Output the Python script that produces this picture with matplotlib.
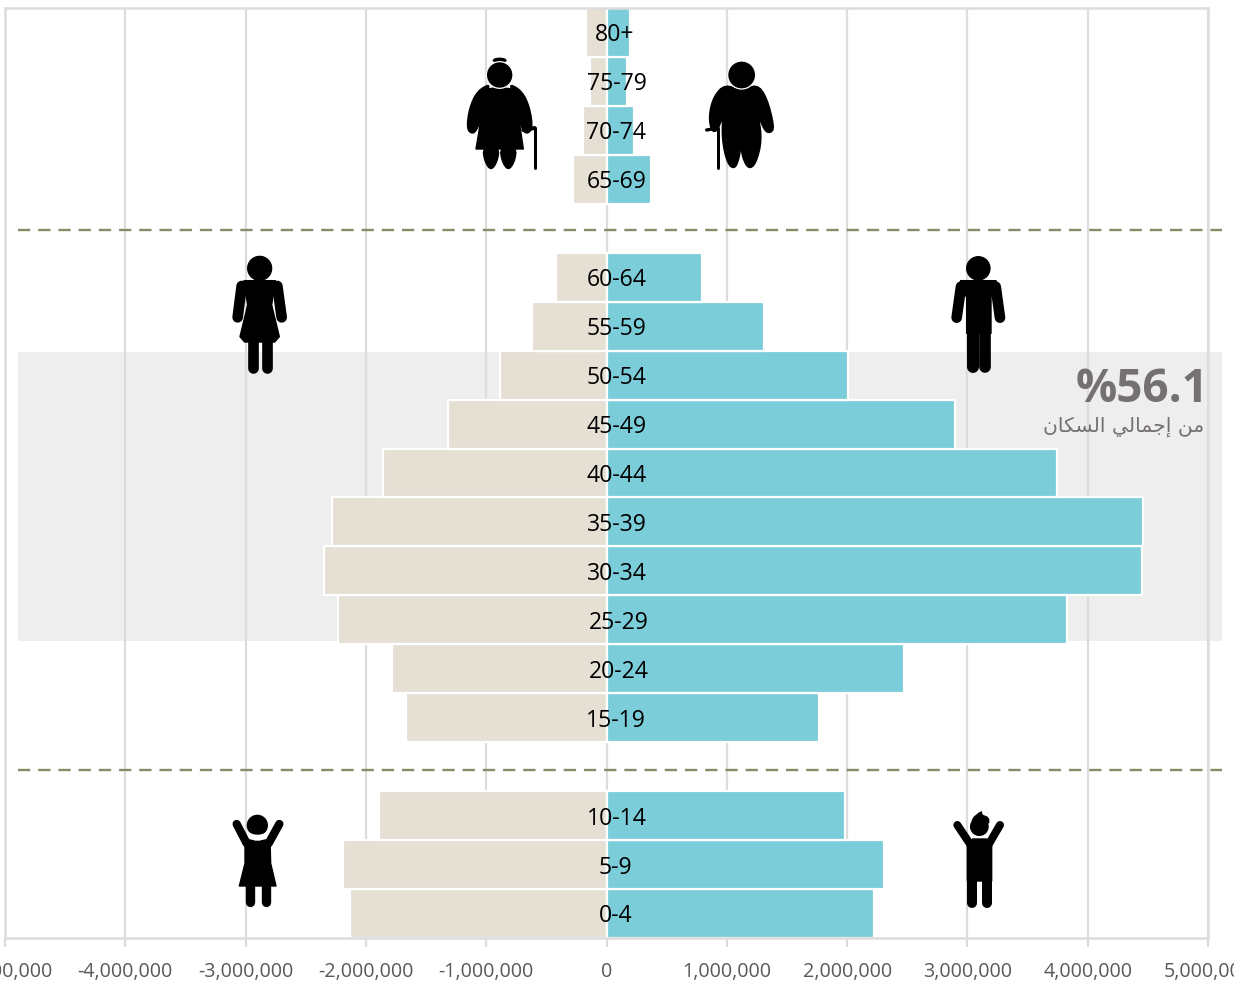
import numpy as np
import matplotlib
matplotlib.use('Agg')
import matplotlib.pyplot as plt
from matplotlib.patches import Polygon, Circle, Ellipse, Rectangle

plt.rcParams['font.family'] = ['Open Sans', 'DejaVu Sans']

# age groups bottom to top, '' = empty slot where the dashed divider sits
slots = ['0-4', '5-9', '10-14', '', '15-19', '20-24', '25-29', '30-34', '35-39',
         '40-44', '45-49', '50-54', '55-59', '60-64', '', '65-69', '70-74', '75-79', '80+']
female = [2135000, 2190000, 1890000, 1668000, 1785000, 2235000, 2350000, 2285000,
          1855000, 1315000, 885000, 620000, 420000, 280000, 195000, 140000, 170000]
male = [2222000, 2305000, 1985000, 1765000, 2475000, 3830000, 4455000, 4462000,
        3745000, 2900000, 2008000, 1308000, 798000, 368000, 232000, 168000, 198000]
xticks = [-5000000, -4000000, -3000000, -2000000, -1000000, 0,
          1000000, 2000000, 3000000, 4000000, 5000000]
share_text = '%56.1'
share_note = 'من إجمالي السكان'

W, H = 1234, 983
GRID = '#dcdcdc'
BLACK = '#000000'

# arabic letters used here: (isolated, final, initial, medial)
forms = {
    'م': ('\ufee1', '\ufee2', '\ufee3', '\ufee4'),
    'ن': ('\ufee5', '\ufee6', '\ufee7', '\ufee8'),
    'إ': ('\ufe87', '\ufe88', '\ufe87', '\ufe88'),
    'ج': ('\ufe9d', '\ufe9e', '\ufe9f', '\ufea0'),
    'ا': ('\ufe8d', '\ufe8e', '\ufe8d', '\ufe8e'),
    'ل': ('\ufedd', '\ufede', '\ufedf', '\ufee0'),
    'ي': ('\ufef1', '\ufef2', '\ufef3', '\ufef4'),
    'س': ('\ufeb1', '\ufeb2', '\ufeb3', '\ufeb4'),
    'ك': ('\ufed9', '\ufeda', '\ufedb', '\ufedc'),
}


def shape_arabic(s):
    # matplotlib does no shaping or bidi, so pick the forms and reverse by hand
    out = []
    for i, c in enumerate(s):
        if c not in forms:
            out.append(c)
            continue
        prev = s[i - 1] if i > 0 else ' '
        nxt = s[i + 1] if i + 1 < len(s) else ' '
        join_prev = prev in forms and prev not in 'اإ'
        join_next = nxt in forms and c not in 'اإ'
        idx = {(False, False): 0, (True, False): 1, (False, True): 2, (True, True): 3}[(join_prev, join_next)]
        out.append(forms[c][idx])
    return ''.join(out[::-1])


fig = plt.figure(figsize=(W / 100, H / 100), dpi=100, facecolor='white')

# back layer, pixel coords: grey band
bg = fig.add_axes([0, 0, 1, 1], zorder=0)
bg.set_xlim(0, W)
bg.set_ylim(H, 0)
bg.axis('off')
bg.add_patch(Rectangle((18, 352), 1204, 289, facecolor='#eeeeee', edgecolor='none'))

# main chart
ax = fig.add_axes([5 / W, 1 - 938 / H, 1203 / W, 930 / H], zorder=1)
ax.patch.set_visible(False)
y = [i for i, s in enumerate(slots) if s]
labels = [s for s in slots if s]
ax.barh(y, -np.array(female), height=1.0, color='#e5dfd4', edgecolor='white', linewidth=1.6)
ax.barh(y, male, height=1.0, color='#7bcdd9', edgecolor='white', linewidth=1.6)
ax.set_xlim(-5000000, 5000000)
ax.set_ylim(-0.5, len(slots) - 0.5)
ax.set_yticks([])
ax.set_xticks(xticks)
ax.set_xticklabels([f'{v:,}' for v in xticks])
ax.tick_params(axis='x', length=6.5, width=1.6, color=GRID, labelcolor='#595959', labelsize=14.2, pad=11)
ax.grid(axis='x', color=GRID, linewidth=1.6)
ax.set_axisbelow(True)
for s in ax.spines.values():
    s.set_color(GRID)
    s.set_linewidth(1.8)

nudge = {'80+': 70000, '25-29': 100000, '20-24': 100000, '15-19': 75000, '5-9': 75000, '0-4': 75000}
for yy, lab in zip(y, labels):
    ax.text(nudge.get(lab, 83000), yy - 0.06, lab, ha='center', va='center', fontsize=16.6, color='black', zorder=5)

# top layer, pixel coords: dividers, callout, icons
top = fig.add_axes([0, 0, 1, 1], zorder=2)
top.patch.set_visible(False)
top.set_xlim(0, W)
top.set_ylim(H, 0)
top.axis('off')

for yy in (230, 770):
    top.plot([18, 1222], [yy, yy], color='#8a8a68', lw=1.7, dashes=(5.2, 3.36))

top.text(1209, 389, share_text, ha='right', va='center', fontsize=33, fontweight='bold', color='#767171')
top.text(1204, 427, shape_arabic(share_note), ha='right', va='center', fontsize=14.6, color='#767171',
         family='DejaVu Sans')


def zpts(pts, x0, y0):
    return [(x0 + a / 3, y0 + b / 3) for a, b in pts]


def chaikin(pts, n):
    p = np.array(pts, dtype=float)
    for _ in range(n):
        q = np.roll(p, -1, axis=0)
        p = np.column_stack([0.75 * p + 0.25 * q, 0.25 * p + 0.75 * q]).reshape(-1, 2)
    return p


def blob(pts, x0, y0, n=1, lw=1.0, color=BLACK, zorder=3):
    top.add_patch(Polygon(chaikin(zpts(pts, x0, y0), n), closed=True, facecolor=color, edgecolor=color,
                          linewidth=lw, joinstyle='round', zorder=zorder))


def limb(p, q, x0, y0, w, cap='round'):
    a, b = zpts([p, q], x0, y0)
    top.plot([a[0], b[0]], [a[1], b[1]], color=BLACK, lw=w * 0.72 / 3, solid_capstyle=cap, zorder=3)


def head(cx, cy, r, x0, y0, outline=True):
    (hx, hy), = zpts([(cx, cy)], x0, y0)
    top.add_patch(Circle((hx, hy), r / 3, facecolor=BLACK, edgecolor='white' if outline else BLACK,
                         linewidth=0.9, zorder=4))


# old woman
blob([(125, 345), (120, 270), (178, 262), (238, 270), (235, 345), (250, 447), (108, 447)], 440, 0, n=0)
blob([(150, 250), (110, 275), (88, 325), (80, 385), (95, 402), (110, 392), (128, 345), (140, 280)], 440, 0, n=2)
blob([(208, 250), (248, 275), (270, 325), (278, 385), (262, 402), (248, 392), (232, 345), (220, 280)], 440, 0, n=2)
blob([(128, 442), (178, 442), (172, 485), (153, 512), (134, 485)], 440, 0, n=2)
blob([(180, 442), (230, 442), (224, 485), (205, 512), (186, 485)], 440, 0, n=2)
head(179, 225, 40, 440, 0)
(bx, by), = zpts([(179, 181)], 440, 0)
top.add_patch(Ellipse((bx, by), 14, 5.5, facecolor=BLACK, edgecolor='none'))
limb((284, 385), (284, 503), 440, 0, 9)
limb((250, 390), (284, 384), 440, 0, 12)

# old man
blob([(855, 252), (905, 274), (950, 252), (980, 290), (1004, 384), (990, 400), (973, 392), (955, 345),
      (966, 420), (948, 492), (925, 508), (906, 470), (903, 425), (899, 470), (885, 508), (862, 492),
      (846, 420), (848, 345), (834, 392), (815, 396), (806, 350), (820, 290)], 440, 0, n=2)
head(905, 225, 42, 440, 0)
limb((833, 385), (833, 503), 440, 0, 9)
limb((800, 390), (832, 384), 440, 0, 10)

# adult woman
blob([(132, 122), (226, 122), (215, 195), (238, 290), (224, 306), (134, 306), (120, 290), (143, 195)], 200, 240, n=0)
limb((125, 138), (113, 232), 200, 240, 32)
limb((232, 138), (245, 232), 200, 240, 32)
limb((158, 300), (158, 383), 200, 240, 32)
limb((200, 300), (200, 383), 200, 240, 32)
head(179, 85, 36, 200, 240, outline=False)

# adult man
blob([(92, 92), (198, 92), (205, 120), (183, 140), (183, 250), (110, 250), (110, 140), (85, 120)], 930, 250, n=0)
limb((93, 110), (80, 203), 930, 250, 32)
limb((197, 110), (210, 203), 930, 250, 32)
limb((128, 245), (128, 352), 930, 250, 36)
limb((166, 245), (166, 352), 930, 250, 35)
head(145, 55, 35, 930, 250, outline=False)

# girl
head(172, 76, 30, 200, 800, outline=False)
limb((110, 72), (140, 130), 200, 800, 25)
limb((238, 72), (206, 130), 200, 800, 25)
blob([(135, 120), (210, 120), (212, 190), (228, 258), (118, 258), (135, 190)], 200, 800, n=0)
limb((150, 255), (150, 305), 200, 800, 28)
limb((197, 255), (197, 305), 200, 800, 28)
# pale crescent under the hair
blob([(140, 92), (160, 104), (185, 104), (206, 92), (200, 116), (172, 124), (146, 116)], 200, 800,
     n=1, lw=0, color='white', zorder=5)

# boy
head(118, 65, 30, 940, 805)
blob([(96, 42), (125, 18), (124, 30), (146, 38), (146, 58), (100, 58)], 940, 805, n=1, zorder=5)
limb((52, 60), (92, 120), 940, 805, 24)
limb((180, 60), (145, 120), 940, 805, 24)
blob([(82, 122), (98, 102), (140, 102), (155, 122), (155, 228), (82, 228)], 940, 805, n=0)
limb((96, 225), (96, 295), 940, 805, 30)
limb((140, 225), (140, 295), 940, 805, 30)

fig.savefig('out.png', dpi=100)
